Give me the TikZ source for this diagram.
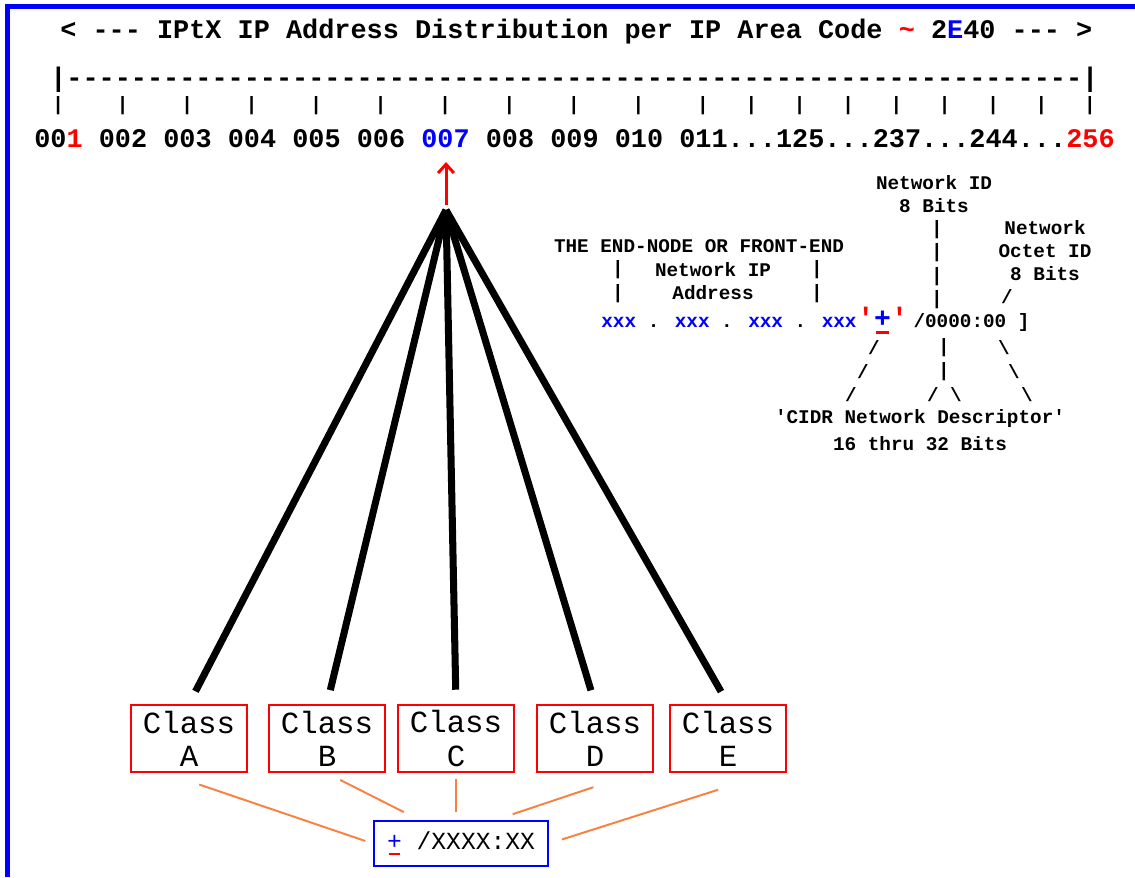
\documentclass[tikz,border=0pt]{standalone}
\usepackage{fontspec}
\newfontfamily\mono[Ligatures=TeXOff]{Liberation Mono}
\usetikzlibrary{arrows.meta, positioning}

\definecolor{linkorange}{RGB}{250,128,64}
\newcommand{\plusmark}{\makebox[0pt][l]{\hspace{0.06em}\color{red}\rule[-0.24em]{0.48em}{0.1em}}{\color{blue}+}}

\begin{document}
\begin{tikzpicture}[x=0.2mm,y=-0.2mm,every node/.style={inner sep=0pt},node distance=0cm]

\tikzstyle{big}=[font=\mono\bfseries\fontsize{15.29}{18}\selectfont];
\tikzstyle{tick}=[font=\mono\bfseries\fontsize{11}{13}\selectfont];
\tikzstyle{note}=[font=\mono\bfseries\fontsize{11}{13.1}\selectfont,align=center];
\tikzstyle{plus}=[font=\mono\bfseries\fontsize{16}{18}\selectfont];
\tikzstyle{classbox}=[rectangle,draw=red,line width=1.4pt,minimum width=23.2mm,minimum height=13.4mm,align=center,font=\mono\fontsize{17.5}{19.9}\selectfont];
\tikzstyle{sumbox}=[rectangle,draw=blue,line width=1.4pt,minimum width=34.8mm,minimum height=9mm,font=\mono\fontsize{14}{16}\selectfont];
\tikzstyle{fan}=[line width=4pt];
\tikzstyle{link}=[draw=linkorange,line width=1.1pt];

\useasboundingbox (0,0) rectangle (1135,877);
\fill[white] (0,0) rectangle (1135,877);
\draw[blue,line width=2.85pt] (7.5,877) -- (7.5,6.5) -- (1135,6.5);

% ruler
\node[big,anchor=base west] (TITLE) at (60,38) {< --- IPtX IP Address Distribution per IP Area Code {\color{red}\textasciitilde} 2{\color{blue}E}40 --- >};
\node[big,anchor=base west] (RULER) at (50,86) {|---------------------------------------------------------------|};
\foreach \c in {1,5,...,41,44,47,...,65}
  \node[tick] (TICK\c) at ({34+16.12*(\c+0.5)},106) {|};
\node[big,anchor=base west] (NUMS) at (34,147) {00{\color{red}1} 002 003 004 005 006 {\color{blue}007} 008 009 010 011...125...237...244...{\color{red}256}};

% pick of 007
\coordinate (APEX) at (446,210);
\coordinate (PICK) at (446,162);
\draw[red,line width=1.7pt,shorten <=3pt,-{Straight Barb[length=5pt,width=9pt]}] (APEX) -- (PICK);

% classes
\node[classbox] (CA) at (189,738.5) {Class\\[-1pt]A};
\node[classbox] (CB) at (327,738.5) {Class\\[-1pt]B};
\node[classbox] (CC) at (456,738.5) {Class\\[-1pt]C};
\node[classbox] (CD) at (595,738.5) {Class\\[-1pt]D};
\node[classbox] (CE) at (728,738.5) {Class\\[-1pt]E};
\foreach \k in {CA,CB,CC,CD,CE}
  \draw[fan,shorten >=8pt] (APEX) -- (\k.north);

\node[sumbox] (SUM) at (461,843.5) {\plusmark{} /XXXX:XX\hspace{6pt}};
\draw[link,shorten <=20pt,shorten >=4.5pt] ([xshift=-4.6mm]CA.south) -- (SUM.west);
\draw[link,shorten <=8.4pt,shorten >=9.7pt] (CB.south) -- ([xshift=-8.4mm]SUM.north);
\draw[link,shorten <=3.4pt,shorten >=4.6pt] (CC.south) -- (CC.south |- SUM.north);
\draw[link,shorten <=25pt,shorten >=10pt] ([xshift=8mm]CD.south) -- ([xshift=7mm]SUM.north);
\draw[link,shorten <=31pt,shorten >=7.6pt] ([xshift=8.4mm]CE.south) -- (SUM.east);

% address and descriptor
\node[note] (NETID) at (934,194.5) {Network ID\\8 Bits};
\node[note] (OCTET) at (1045,251) {Network\\Octet ID\\8 Bits};
\node[note] (ENDNODE) at (699,246) {THE END-NODE OR FRONT-END};
\node[note] (NETIP) at (713,281) {Network IP\\Address};
\node[note,anchor=west] (ADDR) at (601,322) {{\color{blue}xxx} . {\color{blue}xxx} . {\color{blue}xxx} . {\color{blue}xxx}};
\node[plus,base right=of ADDR] (PLUS) {{\color{red}'}\plusmark{\color{red}'}};
\node[note,base right=2.8pt of PLUS] (CIDR) {/0000:00 ]};

\foreach \x/\y [count=\i] in {937/230,937/253,937/277,937/300,618/270,618/294,817/270,817/294,944/348,944/372}
  \node[note] (BAR\i) at (\x,\y) {|};
\foreach \x/\y [count=\i] in {1007/297,874/348,863/372,851/395,933/395}
  \node[note] (FWD\i) at (\x,\y) {/};
\foreach \x/\y [count=\i] in {956/395,1004/348,1014/372,1027/395}
  \node[note] (BACK\i) at (\x,\y) {\textbackslash};

\node[note,font=\mono\bfseries\fontsize{11}{15.4}\selectfont] (CIDRLBL) at (920,430.5) {'CIDR Network Descriptor'\\16 thru 32 Bits};

\end{tikzpicture}
\end{document}
